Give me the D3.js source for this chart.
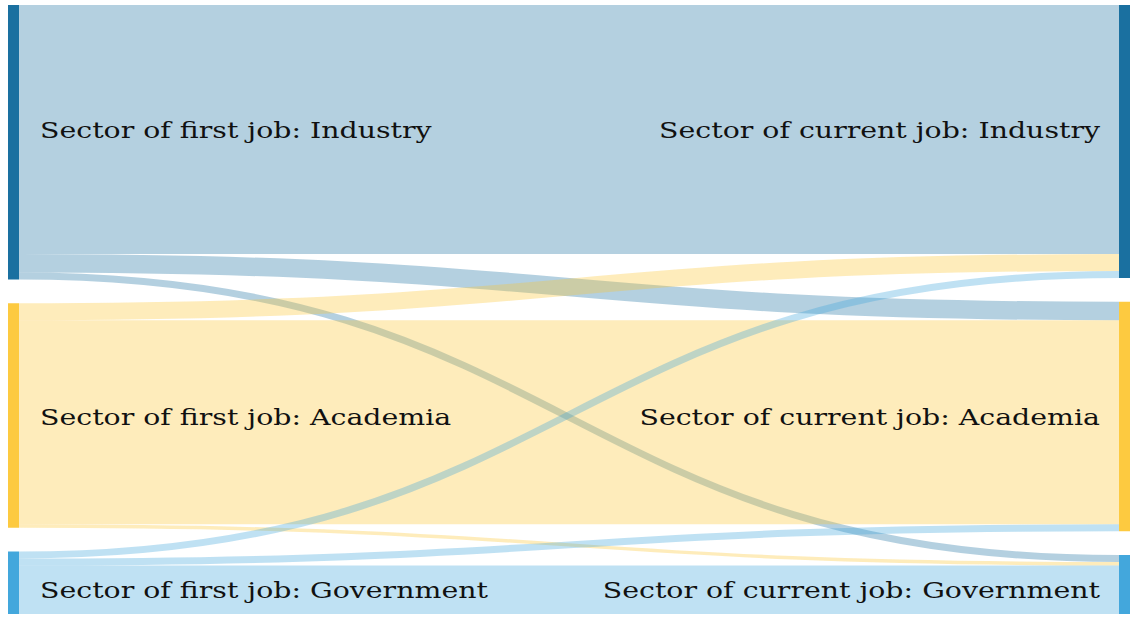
<!DOCTYPE html>
<html>
<head>
<meta charset="utf-8">
<script src="https://cdn.jsdelivr.net/npm/d3@7/dist/d3.min.js"></script>
<style>
  html, body { margin: 0; padding: 0; background: #ffffff; }
  svg { display: block; }
</style>
</head>
<body>
<svg id="chart" width="1140" height="637"></svg>
<script>
// ---- Data ----
const sectors = ["Industry", "Academia", "Government"];
const leftLabels = ["Sector of first job: Industry", "Sector of first job: Academia", "Sector of first job: Government"];
const rightLabels = ["Sector of current job: Industry", "Sector of current job: Academia", "Sector of current job: Government"];
// flows[i][j] : first job sector i -> current job sector j
const fromIndustry   = [249, 18.5, 7];
const fromAcademia   = [17, 204, 3.5];
const fromGovernment = [7, 7, 48.5];
const flows = [fromIndustry, fromAcademia, fromGovernment];

const nodeColors = ["#1a70a0", "#fdca40", "#43a7dc"];
const linkColors = ["#1a70a0", "#fcc531", "#3ea4da"];

// ---- Layout ----
const plotTop = 5, plotBottom = 614;
const pad = 23.75;
const nodeW = 11;
const xLeft = 8, xRight = 1119;
const fontSize = 23, stretch = 1.235;
const labelNudge = [0.5, -5, 0];

const svg = d3.select("#chart");

const leftTotals = flows.map(r => d3.sum(r));
const rightTotals = sectors.map((_, j) => d3.sum(flows, r => r[j]));
const grand = d3.sum(leftTotals);

const k = (plotBottom - plotTop - pad * (sectors.length - 1)) / grand;
const h = d3.scaleLinear().domain([0, grand]).range([0, grand * k]);

function stack(totals) {
  let y = plotTop;
  return totals.map(t => {
    const n = { y0: y, y1: y + h(t) };
    y = n.y1 + pad;
    return n;
  });
}
const leftNodes = stack(leftTotals);
const rightNodes = stack(rightTotals);

const links = [];
for (let i = 0; i < sectors.length; i++) {
  for (let j = 0; j < sectors.length; j++) {
    links.push({ i, j, w: h(flows[i][j]) });
  }
}
const sOff = leftNodes.map(n => n.y0);
for (let i = 0; i < sectors.length; i++) {
  for (let j = 0; j < sectors.length; j++) {
    const l = links.find(d => d.i === i && d.j === j);
    l.y0 = sOff[i] + l.w / 2;
    sOff[i] += l.w;
  }
}
const tOff = rightNodes.map(n => n.y0);
for (let j = 0; j < sectors.length; j++) {
  for (let i = 0; i < sectors.length; i++) {
    const l = links.find(d => d.i === i && d.j === j);
    l.y1 = tOff[j] + l.w / 2;
    tOff[j] += l.w;
  }
}

const linkGen = d3.linkHorizontal()
  .source(d => [xLeft + nodeW, d.y0])
  .target(d => [xRight, d.y1]);

svg.append("g")
  .attr("fill", "none")
  .selectAll("path")
  .data(links)
  .join("path")
  .attr("d", linkGen)
  .attr("stroke", d => linkColors[d.i])
  .attr("stroke-opacity", 0.33)
  .attr("stroke-width", d => Math.max(1, d.w));

svg.append("g").selectAll("rect")
  .data(leftNodes)
  .join("rect")
  .attr("x", xLeft).attr("y", d => d.y0)
  .attr("width", nodeW).attr("height", d => d.y1 - d.y0)
  .attr("fill", (d, i) => nodeColors[i]);

svg.append("g").selectAll("rect")
  .data(rightNodes)
  .join("rect")
  .attr("x", xRight).attr("y", d => d.y0)
  .attr("width", nodeW).attr("height", d => d.y1 - d.y0)
  .attr("fill", (d, i) => nodeColors[i]);

const selfLinks = sectors.map((_, i) => links.find(d => d.i === i && d.j === i));
const font = "'Palatino Linotype', Palatino, 'URW Palladio L', 'DejaVu Serif', serif";

svg.append("g").selectAll("text")
  .data(leftLabels)
  .join("text")
  .attr("transform", (d, i) => `translate(${xLeft + nodeW + 21},${selfLinks[i].y0 + labelNudge[i]}) scale(${stretch},1)`)
  .attr("dy", "0.35em")
  .attr("font-family", font)
  .attr("font-size", fontSize)
  .attr("fill", "#111")
  .text(d => d);

svg.append("g").selectAll("text")
  .data(rightLabels)
  .join("text")
  .attr("transform", (d, i) => `translate(${xRight - 19},${selfLinks[i].y1 + labelNudge[i]}) scale(${stretch},1)`)
  .attr("dy", "0.35em")
  .attr("text-anchor", "end")
  .attr("font-family", font)
  .attr("font-size", fontSize)
  .attr("fill", "#111")
  .text(d => d);
</script>
</body>
</html>
